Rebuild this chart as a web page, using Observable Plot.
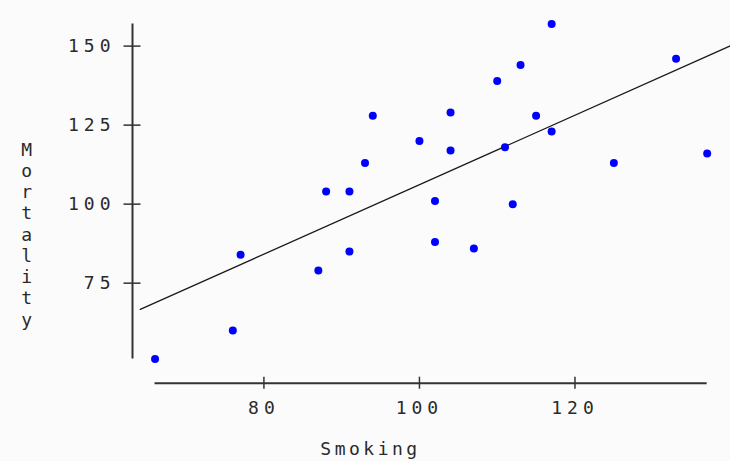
<!DOCTYPE html>
<html>
<head>
<meta charset="utf-8">
<script src="https://cdn.jsdelivr.net/npm/d3@7"></script>
<script src="https://cdn.jsdelivr.net/npm/@observablehq/plot@0.6"></script>
<style>
  html, body { margin: 0; padding: 0; background: #fbfbfb; }
  #chart svg { display: block; }
</style>
</head>
<body>
<div id="chart"></div>
<script>
// Data
const smoking   = [66, 76, 77, 87, 88, 91, 91, 93, 94, 100, 102, 102, 104, 104, 107, 110, 111, 112, 113, 115, 117, 117, 125, 133, 137];
const mortality = [51, 60, 84, 79, 104, 104, 85, 113, 128, 120, 101, 88, 129, 117, 86, 139, 118, 100, 144, 128, 123, 157, 113, 146, 116];
const xTicks = [80, 100, 120];
const yTicks = [75, 100, 125, 150];
const xLabel = "Smoking";
const yLabel = "Mortality";
const xDomain = [63.1, 140];
const yDomain = [43.35, 160];
const fitExtent = [64.1, 140];

const points = smoking.map((s, i) => ({smoking: s, mortality: mortality[i]}));

// least-squares fit
const mx = d3.mean(smoking), my = d3.mean(mortality);
const slope = d3.sum(points, d => (d.smoking - mx) * (d.mortality - my)) / d3.sum(points, d => (d.smoking - mx) ** 2);
const intercept = my - slope * mx;
const fit = fitExtent.map(x => ({smoking: x, mortality: intercept + slope * x}));

const ink = "#2a2a2a";

const chart = Plot.plot({
  width: 730,
  height: 461,
  marginLeft: 132,
  marginRight: 0,
  marginTop: 14,
  marginBottom: 78.3,
  style: {background: "#fbfbfb", fontFamily: "'DejaVu Sans Mono', monospace", fontSize: "18px", color: ink},
  x: {domain: xDomain},
  y: {domain: yDomain},
  marks: [
    // axis lines (range frame)
    Plot.ruleX([xDomain[0]], {y1: d3.min(mortality), y2: d3.max(mortality), stroke: "#333", strokeWidth: 2}),
    Plot.ruleY([yDomain[0]], {x1: d3.min(smoking), x2: d3.max(smoking), stroke: "#333", strokeWidth: 2}),
    // ticks crossing the axis lines
    Plot.axisY(yTicks, {anchor: "left", tickSize: 17, dx: 8.5, fill: "none", stroke: "#333", strokeWidth: 1.5}),
    Plot.axisX(xTicks, {anchor: "bottom", tickSize: 12, dy: -6, fill: "none", stroke: "#333", strokeWidth: 1.5}),
    // tick labels
    Plot.axisY(yTicks, {anchor: "left", tickSize: 0, tickPadding: 17, fill: ink, label: null}),
    Plot.axisX(xTicks, {anchor: "bottom", tickSize: 0, tickPadding: 18.5, fill: ink, label: null}),
    // regression line
    Plot.line(fit, {x: "smoking", y: "mortality", stroke: "#1a1a1a", strokeWidth: 1.3}),
    // points
    Plot.dot(points, {x: "smoking", y: "mortality", r: 4, fill: "#0000ff", stroke: "none"}),
    // axis titles
    Plot.text([xLabel], {frameAnchor: "bottom", lineAnchor: "bottom", dx: -61, dy: 71.3, fill: ink}),
    Plot.text([yLabel.split("").join("\n")], {frameAnchor: "left", lineAnchor: "middle", textAnchor: "middle", lineHeight: 1.18, dx: -104, dy: 35, fill: ink})
  ]
});

const svg = d3.select(chart);
svg.attr("letter-spacing", "3.5px");
svg.selectAll('g[aria-label="y-axis tick label"], g[aria-label="x-axis tick label"]').attr("letter-spacing", "5px");
document.getElementById("chart").appendChild(chart);
</script>
</body>
</html>
